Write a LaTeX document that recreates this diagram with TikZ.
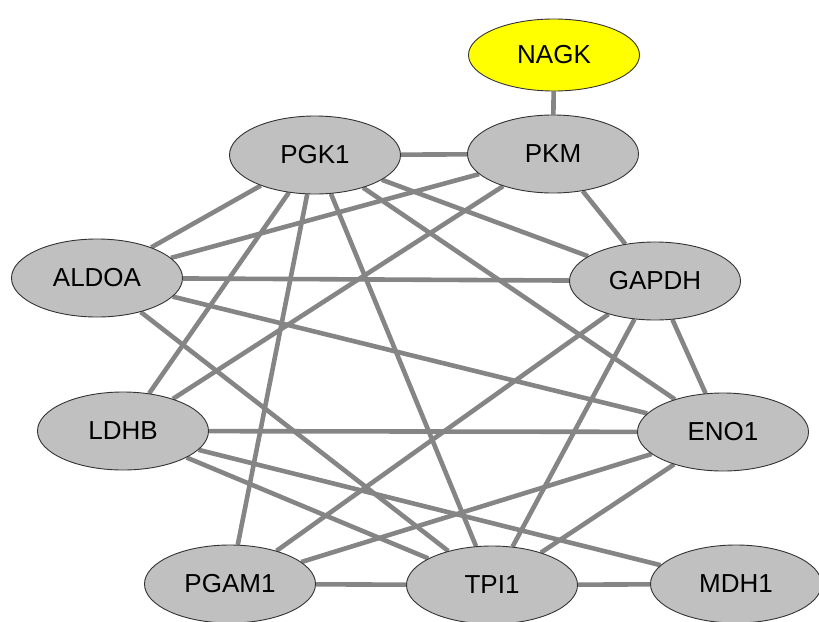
\documentclass[tikz,border=0pt]{standalone}
\usepackage{fontspec}
\setmainfont{Liberation Sans}
\usetikzlibrary{shapes.geometric,backgrounds}
\definecolor{nodefill}{RGB}{192,192,192}
\definecolor{edgegray}{RGB}{133,133,133}
\definecolor{nagkyellow}{RGB}{255,255,0}
\tikzset{
  gene/.style={ellipse, draw=black!80, line width=0.9pt, fill=nodefill,
    minimum width=171pt, minimum height=78pt, inner sep=0pt,
    font=\fontsize{26}{29}\selectfont},
  link/.style={draw=edgegray, line width=4.6pt}
}
\begin{document}
\begin{tikzpicture}[x=1pt,y=-1pt]
\useasboundingbox (0,0) rectangle (819,621);
\node[gene, fill=nagkyellow, minimum height=72pt] (NAGK) at (554,55) {NAGK};
\node[gene] (PKM) at (553,154) {PKM};
\node[gene] (PGK1) at (315,155) {PGK1};
\node[gene] (ALDOA) at (97,278) {ALDOA};
\node[gene] (GAPDH) at (655,281) {GAPDH};
\node[gene] (LDHB) at (123,431) {LDHB};
\node[gene] (ENO1) at (723,432) {ENO1};
\node[gene] (PGAM1) at (230,584) {PGAM1};
\node[gene] (TPI1) at (492,585) {TPI1};
\node[gene] (MDH1) at (736,584) {MDH1};
\begin{scope}[on background layer]
\draw[link] (NAGK) -- (PKM);
\draw[link] (PGK1) -- (PKM);
\draw[link] (PKM) -- (GAPDH);
\draw[link] (PKM) -- (ALDOA);
\draw[link] (PKM) -- (LDHB);
\draw[link] (PGK1) -- (ALDOA);
\draw[link] (PGK1) -- (LDHB);
\draw[link] (PGK1) -- (GAPDH);
\draw[link] (PGK1) -- (ENO1);
\draw[link] (PGK1) -- (PGAM1);
\draw[link] (PGK1) -- (TPI1);
\draw[link] (ALDOA) -- (GAPDH);
\draw[link] (ALDOA) -- (ENO1);
\draw[link] (ALDOA) -- (TPI1);
\draw[link] (GAPDH) -- (ENO1);
\draw[link] (GAPDH) -- (PGAM1);
\draw[link] (GAPDH) -- (TPI1);
\draw[link] (LDHB) -- (ENO1);
\draw[link] (LDHB) -- (TPI1);
\draw[link] (LDHB) -- (MDH1);
\draw[link] (ENO1) -- (PGAM1);
\draw[link] (ENO1) -- (TPI1);
\draw[link] (PGAM1) -- (TPI1);
\draw[link] (TPI1) -- (MDH1);
\end{scope}
\end{tikzpicture}
\end{document}
